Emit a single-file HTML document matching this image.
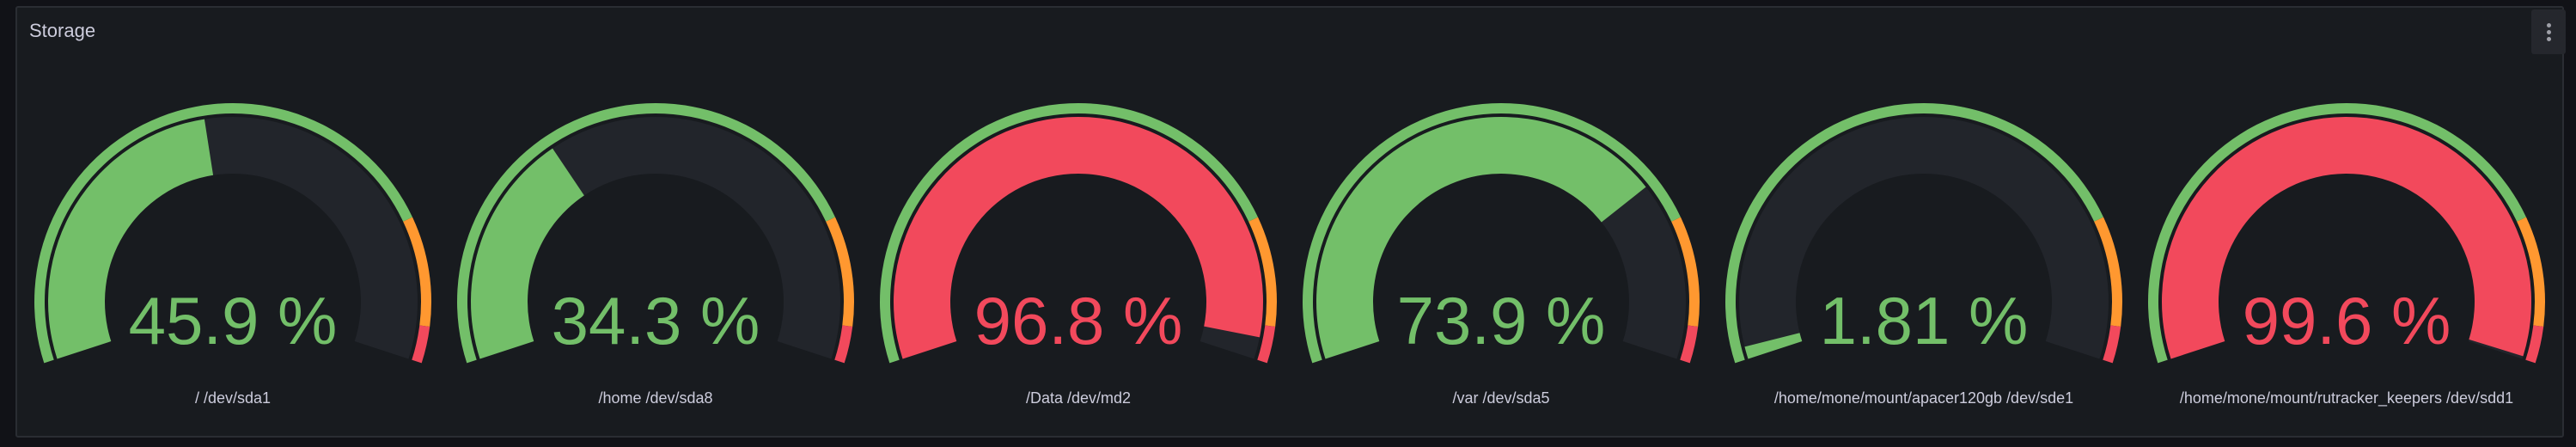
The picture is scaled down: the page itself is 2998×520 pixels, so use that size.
<!DOCTYPE html>
<html><head><meta charset="utf-8"><style>
html,body{margin:0;padding:0;background:#111217;width:2998px;height:520px;overflow:hidden;font-family:"Liberation Sans",sans-serif}
#panel{position:absolute;left:18px;top:7px;width:2966px;height:502px;background:#181b1f;border:2px solid #2a2d33;border-radius:3px;box-sizing:border-box}
#title{position:absolute;left:14px;top:14px;color:#ccccdc;font-size:22px;font-weight:500}
#menu{position:absolute;left:2926px;top:2px;width:40px;height:52px;background:#25272d;border-radius:3px}
#menu i{position:absolute;left:18px;width:5px;height:5px;border-radius:50%;background:#9fa0a8}
svg{position:absolute;left:0;top:0}
</style></head><body>
<div id="panel">
<div id="title">Storage</div>
<div id="menu"><i style="top:16px"></i><i style="top:24px"></i><i style="top:32px"></i></div>
</div>
<svg id="g" width="2998" height="520"></svg>
<script>
const labels=["/ /dev/sda1","/home /dev/sda8","/Data /dev/md2","/var /dev/sda5","/home/mone/mount/apacer120gb /dev/sde1","/home/mone/mount/rutracker_keepers /dev/sdd1"];
const values=[45.9,34.3,96.8,73.9,1.81,99.6];
const display=["45.9 %","34.3 %","96.8 %","73.9 %","1.81 %","99.6 %"];
const thresholds=[0,80,95];
const tcolors=["#73bf69","#ff9830","#f2495c"];
const svg=document.getElementById('g');
const NS="http://www.w3.org/2000/svg";
const cy=351, x0=271, dx=492;
const A0=198*Math.PI/180, SW=216*Math.PI/180;
function ang(v){return A0-SW*v/100;}
function pt(cx,r,a){return [cx+r*Math.cos(a),cy-r*Math.sin(a)];}
function arc(cx,r1,r2,a1,a2){
  const big=(a1-a2)>Math.PI?1:0;
  const p1=pt(cx,r2,a1),p2=pt(cx,r2,a2),p3=pt(cx,r1,a2),p4=pt(cx,r1,a1);
  return `M${p1}A${r2},${r2} 0 ${big} 1 ${p2}L${p3}A${r1},${r1} 0 ${big} 0 ${p4}Z`;
}
function colorFor(v){let c=tcolors[0];thresholds.forEach((t,i)=>{if(v>=t)c=tcolors[i];});return c;}
function add(tag,attrs){const e=document.createElementNS(NS,tag);for(const k in attrs)e.setAttribute(k,attrs[k]);svg.appendChild(e);return e;}
values.forEach((v,i)=>{
  const cx=x0+dx*i;
  const col=colorFor(v);
  for(let k=0;k<thresholds.length;k++){
    const s=thresholds[k],e=k+1<thresholds.length?thresholds[k+1]:100;
    const p=add('path',{d:arc(cx,219,231,ang(s),ang(e)),fill:tcolors[k]});
    
    
  }
  const bg=add('path',{d:arc(cx,149,215,ang(0),ang(100)),fill:'#22252b'});
  
  
  const f=add('path',{d:arc(cx,149,215,ang(0),ang(Math.min(v,100))),fill:col});
  
  
  const t=add('text',{x:cx,y:400,'text-anchor':'middle',fill:col,'font-size':78,'font-family':'Liberation Sans, sans-serif'});
  t.textContent=display[i];
  
  
  const l=add('text',{x:cx,y:469,'text-anchor':'middle',fill:'#ccccdc','font-size':18,'font-family':'Liberation Sans, sans-serif'});
  l.textContent=labels[i];
  
  
});
</script>
</body></html>
